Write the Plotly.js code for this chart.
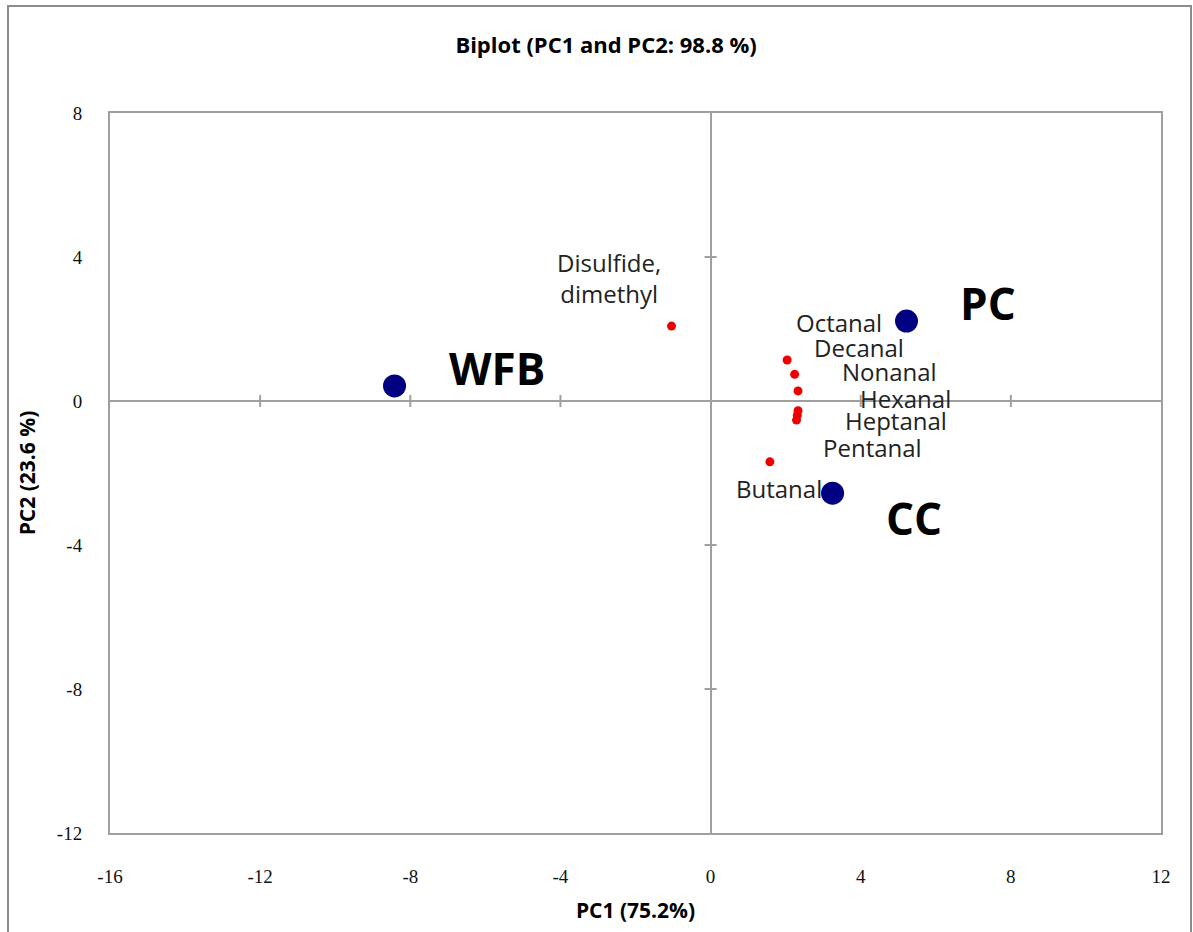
<!DOCTYPE html>
<html>
<head>
<meta charset="utf-8">
<script src="https://cdn.plot.ly/plotly-3.0.1.min.js"></script>
<style>
html,body{margin:0;padding:0;background:#fff;}
#wrap{position:relative;width:1193px;height:932px;}
#chart{width:1193px;height:932px;}
#frame{position:absolute;left:7px;top:5px;width:1181px;height:940px;border:2px solid #8c8c8c;pointer-events:none;}
</style>
</head>
<body>
<div id="wrap"><div id="chart"></div><div id="frame"></div></div>
<script>
// Observations (PCA scores)
const obsNames = ["WFB", "PC", "CC"];
const obsPC1 = [-8.42, 5.22, 3.25];
const obsPC2 = [0.42, 2.22, -2.56];

// Variables (loadings)
const varNames = ["Disulfide,<br>dimethyl", "Octanal", "Decanal", "Nonanal", "Hexanal", "Heptanal", "Pentanal", "Butanal"];
const varPC1 = [-1.04, 2.04, 2.24, 2.33, 2.33, 2.29, 2.31, 1.58];
const varPC2 = [2.08, 1.14, 0.74, 0.28, -0.27, -0.53, -0.40, -1.69];

const xTicks = [-16, -12, -8, -4, 0, 4, 8, 12];
const yTicks = [-12, -8, -4, 0, 4, 8];

// label placement (pixel shifts from each point)
const obsLabelShift = [[102, 18], [81, 18], [81, -25]];
const varLabelShift = [[-63, 48], [52, 37], [64, 27], [91, 19], [107, 12], [99, 0], [75, -32], [9, -27]];

const gray = "#a0a0a0";

const traces = [
  {
    x: varPC1, y: varPC2, mode: "markers", type: "scatter",
    marker: {color: "#ee0000", size: 9}, hoverinfo: "skip", showlegend: false
  },
  {
    x: obsPC1, y: obsPC2, mode: "markers", type: "scatter",
    marker: {color: "#000080", size: 23}, hoverinfo: "skip", showlegend: false
  }
];

const annotations = [];
obsNames.forEach((n, i) => annotations.push({
  x: obsPC1[i], y: obsPC2[i], xref: "x", yref: "y", text: "<b>" + n + "</b>", showarrow: false,
  xshift: obsLabelShift[i][0], yshift: obsLabelShift[i][1],
  font: {family: "Open Sans, Liberation Sans, sans-serif", size: 44, color: "#000"}
}));
varNames.forEach((n, i) => annotations.push({
  x: varPC1[i], y: varPC2[i], xref: "x", yref: "y", text: n, showarrow: false,
  xshift: varLabelShift[i][0], yshift: varLabelShift[i][1],
  font: {family: "Open Sans, Liberation Sans, sans-serif", size: 24, color: "#222"}
}));

// cross tick marks on the zero axes
const shapes = [];
xTicks.forEach(v => {
  if (v === xTicks[0] || v === xTicks[xTicks.length - 1] || v === 0) return;
  shapes.push({type: "line", xref: "x", yref: "y", x0: v, x1: v,
    ysizemode: "pixel", yanchor: 0, y0: -6, y1: 6, line: {color: gray, width: 2}});
});
yTicks.forEach(v => {
  if (v === yTicks[0] || v === yTicks[yTicks.length - 1] || v === 0) return;
  shapes.push({type: "line", xref: "x", yref: "y", y0: v, y1: v,
    xsizemode: "pixel", xanchor: 0, x0: -6, x1: 6, line: {color: gray, width: 2}});
});

const tickFont = {family: "Liberation Serif, DejaVu Serif, serif", size: 19, color: "#111"};

const layout = {
  width: 1193, height: 932,
  margin: {l: 110, r: 32, t: 113, b: 99},
  paper_bgcolor: "#fff", plot_bgcolor: "#fff",
  title: {
    text: "<b>Biplot (PC1 and PC2: 98.8 %)</b>",
    x: 0.472, xanchor: "center", xref: "paper",
    y: 0.951, yanchor: "middle", yref: "container",
    font: {family: "Open Sans, Liberation Sans, sans-serif", size: 22, color: "#000"}
  },
  xaxis: {
    range: [-16, 12], tickvals: xTicks, ticktext: xTicks.map(String),
    showgrid: false, zeroline: true, zerolinecolor: gray, zerolinewidth: 2,
    showline: true, mirror: true, linecolor: gray, linewidth: 2,
    ticks: "", ticklabelstandoff: 25, tickfont: tickFont, automargin: false,
    title: {text: "<b>PC1 (75.2%)</b>", standoff: 18,
      font: {family: "Open Sans, Liberation Sans, sans-serif", size: 21, color: "#000"}}
  },
  yaxis: {
    range: [-12, 8], tickvals: yTicks, ticktext: yTicks.map(String),
    showgrid: false, zeroline: true, zerolinecolor: gray, zerolinewidth: 2,
    showline: true, mirror: true, linecolor: gray, linewidth: 2,
    ticks: "", ticklabelstandoff: 22, tickfont: tickFont, automargin: false,
    title: {text: "<b>PC2 (23.6 %)</b>", standoff: 16,
      font: {family: "Open Sans, Liberation Sans, sans-serif", size: 21, color: "#000"}}
  },
  annotations: annotations,
  shapes: shapes
};

Plotly.newPlot("chart", traces, layout, {displayModeBar: false, staticPlot: true});
</script>
</body>
</html>
